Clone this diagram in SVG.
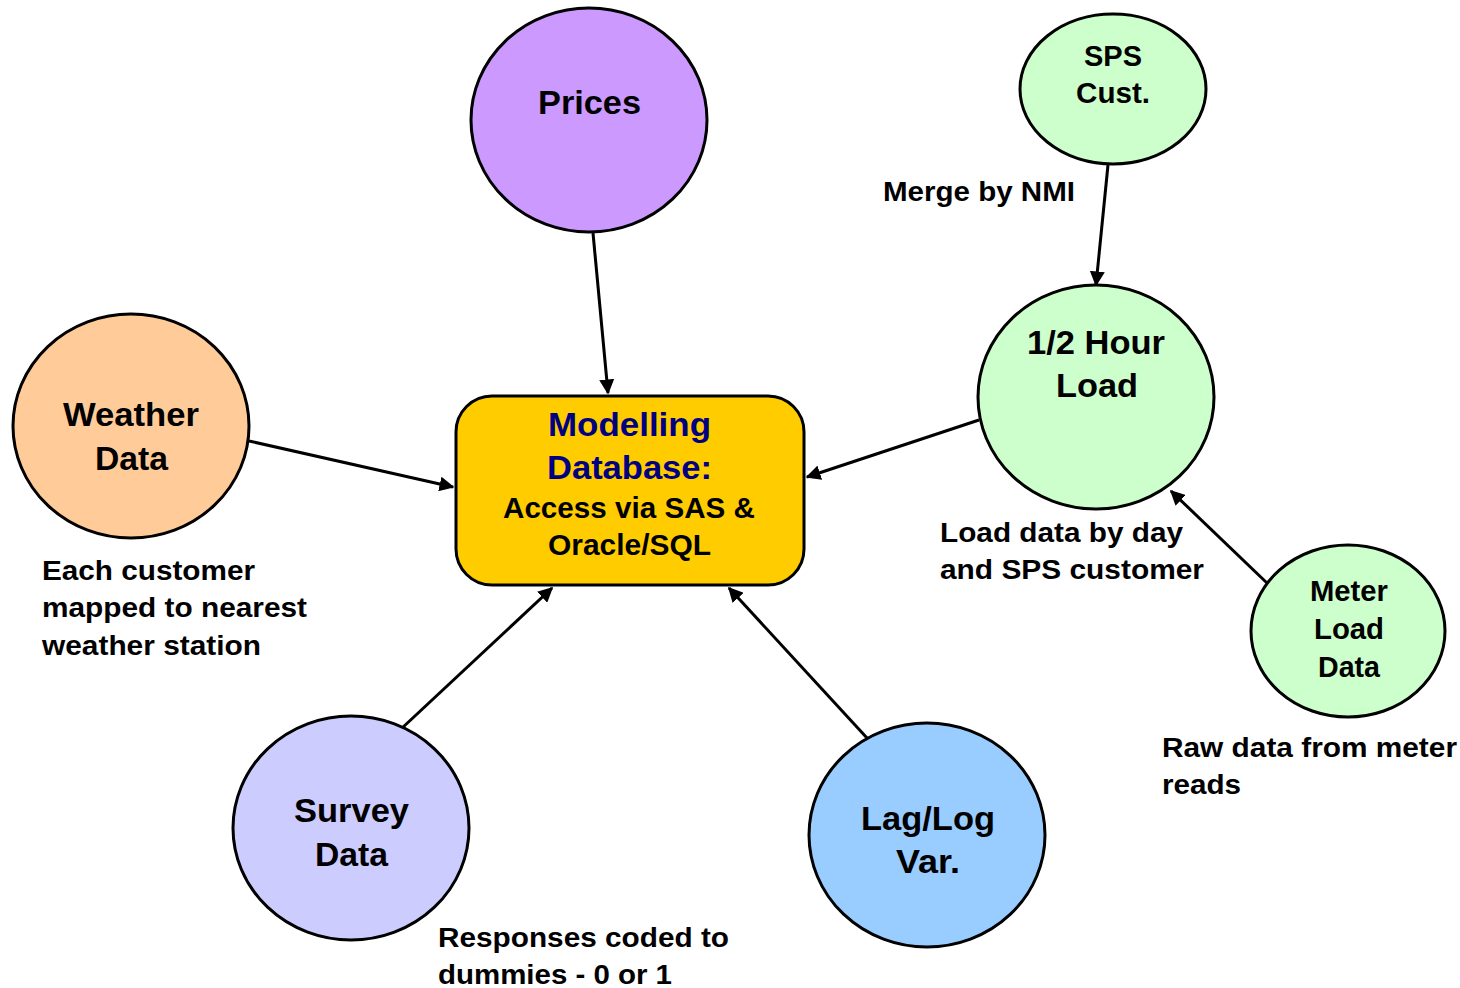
<svg xmlns="http://www.w3.org/2000/svg" width="1460" height="988" viewBox="0 0 1460 988">
  <style>
    .node { stroke: #000; stroke-width: 3; }
    .t { font-family: "Liberation Sans", Arial, sans-serif; font-weight: bold; fill: #000; }
    .big { font-size: 34px; }
    .mid { font-size: 29px; }
    .navy { fill: #000080; }
    .lbl { font-family: "Liberation Sans", Arial, sans-serif; font-weight: bold; font-size: 27px; fill: #000; }
    .edge { stroke: #000; stroke-width: 3; fill: none; marker-end: url(#arrow); }
  </style>
  <defs>
    <marker id="arrow" viewBox="0 0 10 10" refX="9" refY="5" markerWidth="5" markerHeight="5" markerUnits="strokeWidth" orient="auto">
      <path d="M0,0 L10,5 L0,10 Z" fill="#000"/>
    </marker>
  </defs>
  <rect width="1460" height="988" fill="#fff"/>

  <g id="connectors">
    <line class="edge" x1="593" y1="233" x2="608" y2="393"/>
    <line class="edge" x1="249" y1="441" x2="453" y2="487"/>
    <line class="edge" x1="979" y1="420" x2="807" y2="477"/>
    <line class="edge" x1="1108" y1="165" x2="1096" y2="285"/>
    <line class="edge" x1="1267" y1="583" x2="1171" y2="491"/>
    <line class="edge" x1="401" y1="729" x2="552" y2="588"/>
    <line class="edge" x1="867" y1="738" x2="729" y2="588"/>
  </g>

  <g id="prices">
    <ellipse class="node" cx="589" cy="120" rx="118" ry="112" fill="#CC99FF"/>
    <text class="t big" x="538" y="114" textLength="103" lengthAdjust="spacingAndGlyphs">Prices</text>
  </g>

  <g id="weather">
    <ellipse class="node" cx="131" cy="426" rx="118" ry="112" fill="#FFCC99"/>
    <text class="t big" x="63" y="426" textLength="136" lengthAdjust="spacingAndGlyphs">Weather</text>
    <text class="t big" x="95" y="470" textLength="73" lengthAdjust="spacingAndGlyphs">Data</text>
  </g>

  <g id="modelling-db">
    <rect class="node" x="456" y="396" width="348" height="189" rx="36" ry="36" fill="#FFCC00"/>
    <text class="t big navy" x="548" y="436" textLength="163" lengthAdjust="spacingAndGlyphs">Modelling</text>
    <text class="t big navy" x="547" y="479" textLength="165" lengthAdjust="spacingAndGlyphs">Database:</text>
    <text class="t mid" x="503" y="518" textLength="252" lengthAdjust="spacingAndGlyphs">Access via SAS &amp;</text>
    <text class="t mid" x="548" y="555" textLength="163" lengthAdjust="spacingAndGlyphs">Oracle/SQL</text>
  </g>

  <g id="half-hour-load">
    <ellipse class="node" cx="1096" cy="397" rx="118" ry="112" fill="#CCFFCC"/>
    <text class="t big" x="1027" y="354" textLength="138" lengthAdjust="spacingAndGlyphs">1/2 Hour</text>
    <text class="t big" x="1056" y="397" textLength="82" lengthAdjust="spacingAndGlyphs">Load</text>
  </g>

  <g id="sps-cust">
    <ellipse class="node" cx="1113" cy="89" rx="93" ry="75" fill="#CCFFCC"/>
    <text class="t mid" x="1084" y="66" textLength="58" lengthAdjust="spacingAndGlyphs">SPS</text>
    <text class="t mid" x="1076" y="103" textLength="74" lengthAdjust="spacingAndGlyphs">Cust.</text>
  </g>

  <g id="meter-load">
    <ellipse class="node" cx="1348" cy="631" rx="97" ry="86" fill="#CCFFCC"/>
    <text class="t mid" x="1310" y="601" textLength="78" lengthAdjust="spacingAndGlyphs">Meter</text>
    <text class="t mid" x="1314" y="639" textLength="70" lengthAdjust="spacingAndGlyphs">Load</text>
    <text class="t mid" x="1318" y="677" textLength="62" lengthAdjust="spacingAndGlyphs">Data</text>
  </g>

  <g id="survey">
    <ellipse class="node" cx="351" cy="828" rx="118" ry="112" fill="#CCCCFF"/>
    <text class="t big" x="294" y="822" textLength="115" lengthAdjust="spacingAndGlyphs">Survey</text>
    <text class="t big" x="315" y="866" textLength="73" lengthAdjust="spacingAndGlyphs">Data</text>
  </g>

  <g id="lag-log">
    <ellipse class="node" cx="927" cy="835" rx="118" ry="112" fill="#99CCFF"/>
    <text class="t big" x="861" y="830" textLength="134" lengthAdjust="spacingAndGlyphs">Lag/Log</text>
    <text class="t big" x="896" y="873" textLength="64" lengthAdjust="spacingAndGlyphs">Var.</text>
  </g>

  <g id="annotations">
    <text class="lbl" x="883" y="201" textLength="192" lengthAdjust="spacingAndGlyphs">Merge by NMI</text>
    <text class="lbl" x="940" y="542" textLength="243" lengthAdjust="spacingAndGlyphs">Load data by day</text>
    <text class="lbl" x="940" y="579" textLength="264" lengthAdjust="spacingAndGlyphs">and SPS customer</text>
    <text class="lbl" x="42" y="580" textLength="213" lengthAdjust="spacingAndGlyphs">Each customer</text>
    <text class="lbl" x="42" y="617" textLength="265" lengthAdjust="spacingAndGlyphs">mapped to nearest</text>
    <text class="lbl" x="42" y="655" textLength="219" lengthAdjust="spacingAndGlyphs">weather station</text>
    <text class="lbl" x="1162" y="757" textLength="295" lengthAdjust="spacingAndGlyphs">Raw data from meter</text>
    <text class="lbl" x="1162" y="794" textLength="79" lengthAdjust="spacingAndGlyphs">reads</text>
    <text class="lbl" x="438" y="947" textLength="291" lengthAdjust="spacingAndGlyphs">Responses coded to</text>
    <text class="lbl" x="438" y="984" textLength="234" lengthAdjust="spacingAndGlyphs">dummies - 0 or 1</text>
  </g>
</svg>
